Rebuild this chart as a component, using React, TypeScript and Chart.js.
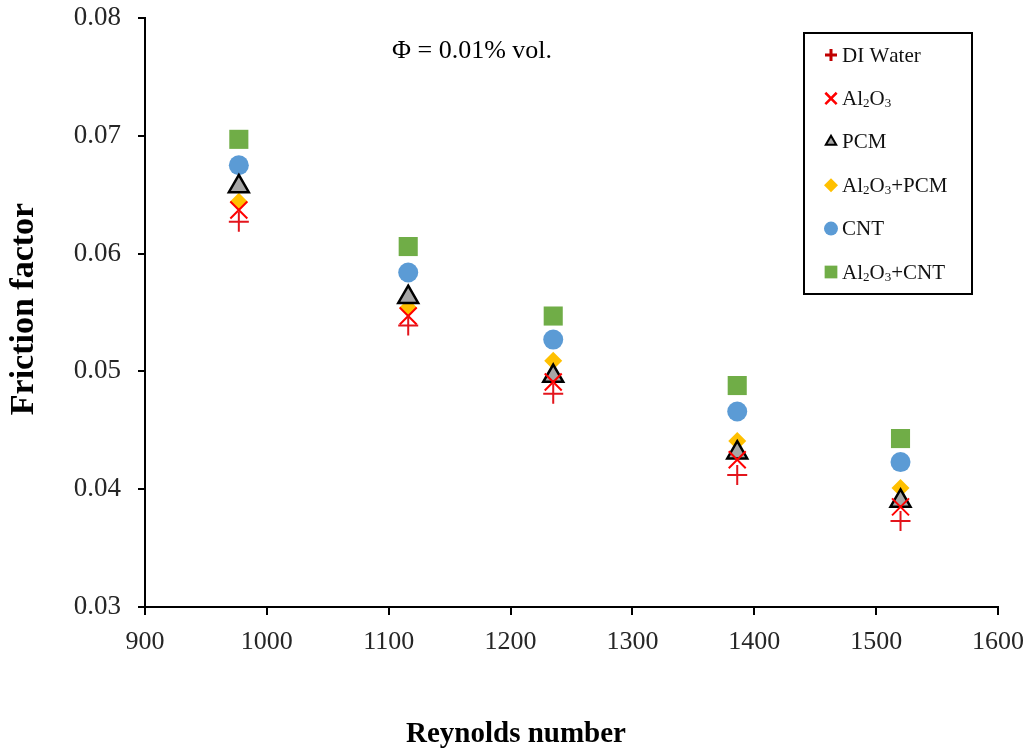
import React, { useEffect, useRef } from 'react';
import { Chart, registerables } from 'chart.js';
import { drawPoint } from 'chart.js/helpers';

Chart.register(...registerables);

// ---- Data ----
const reynolds = [977, 1116, 1235, 1386, 1520];
const diWater = [0.0627, 0.0539, 0.0481, 0.0412, 0.0373];
const al2o3 = [0.0637, 0.0547, 0.0491, 0.0425, 0.0385];
const pcm = [0.0657, 0.0563, 0.0496, 0.0431, 0.0390];
const al2o3Pcm = [0.0644, 0.0554, 0.0509, 0.0441, 0.0401];
const cnt = [0.0675, 0.0584, 0.0527, 0.0466, 0.0423];
const al2o3Cnt = [0.0697, 0.0606, 0.0547, 0.0488, 0.0443];

const seriesLabels = ['DI Water', 'Al₂O₃', 'PCM', 'Al₂O₃+PCM', 'CNT', 'Al₂O₃+CNT'];
const seriesValues = [diWater, al2o3, pcm, al2o3Pcm, cnt, al2o3Cnt];
const xTitleText = 'Reynolds number';
const yTitleText = 'Friction factor';
const annotationText = 'Φ = 0.01% vol.';

const FONT = "'Liberation Serif', 'Times New Roman', serif";

// ---- Styles ----
const styles = [
  { pointStyle: 'cross', radius: 10, bg: '#E3151C', border: '#E3151C', bw: 2, lRadius: 6, lColor: '#C00000', lbw: 3 },
  { pointStyle: 'crossRot', radius: 12, bg: '#FF0000', border: '#FF0000', bw: 2, lRadius: 8, lColor: '#FF0000', lbw: 2.5 },
  { pointStyle: 'triangle', radius: 11.5, bg: '#A6A6A6', border: '#000000', bw: 2.5, lRadius: 6, lColor: '#A6A6A6', lbw: 2 },
  { pointStyle: 'rectRot', radius: 9, bg: '#FFC000', border: '#FFC000', bw: 0, lRadius: 7, lColor: '#FFC000', lbw: 0 },
  { pointStyle: 'circle', radius: 10, bg: '#5B9BD5', border: '#5B9BD5', bw: 0, lRadius: 7, lColor: '#5B9BD5', lbw: 0 },
  { pointStyle: 'rect', radius: 13.5, bg: '#70AD47', border: '#70AD47', bw: 0, lRadius: 9, lColor: '#70AD47', lbw: 0 },
];

function drawRich(ctx: CanvasRenderingContext2D, text: string, x: number, y: number, size: number) {
  let cx = x;
  const subs = '₀₁₂₃₄₅₆₇₈₉';
  for (const ch of text) {
    const s = subs.indexOf(ch);
    if (s >= 0) {
      ctx.font = `${Math.round(size * 0.62)}px ${FONT}`;
      ctx.fillText(String(s), cx, y + size * 0.2);
      cx += ctx.measureText(String(s)).width;
    } else {
      ctx.font = `${size}px ${FONT}`;
      ctx.fillText(ch, cx, y);
      cx += ctx.measureText(ch).width;
    }
  }
}

const decorPlugin = {
  id: 'decor',
  afterDraw(chart: any) {
    const ctx: CanvasRenderingContext2D = chart.ctx;
    ctx.save();
    // axis titles
    ctx.fillStyle = '#000';
    ctx.textAlign = 'center';
    ctx.textBaseline = 'middle';
    ctx.font = `bold 29px ${FONT}`;
    ctx.fillText(xTitleText, 516, 735);
    ctx.save();
    ctx.translate(24, 309);
    ctx.rotate(-Math.PI / 2);
    ctx.font = `bold 34px ${FONT}`;
    ctx.fillText(yTitleText, 0, 0);
    ctx.restore();
    // annotation
    ctx.font = `26px ${FONT}`;
    ctx.fillText(annotationText, 472, 51);

    // legend box
    ctx.lineWidth = 2;
    ctx.strokeStyle = '#000';
    ctx.strokeRect(804, 33, 168, 261);
    chart.data.datasets.forEach((ds: any, i: number) => {
      const st = styles[i];
      const y = 55 + i * 43.4;
      ctx.save();
      ctx.fillStyle = st.lColor;
      ctx.strokeStyle = st.pointStyle === 'triangle' ? '#000' : st.lColor;
      ctx.lineWidth = st.lbw;
      drawPoint(ctx, { pointStyle: st.pointStyle, radius: st.lRadius, borderWidth: st.lbw, rotation: 0 } as any, 831, y);
      ctx.restore();
      ctx.fillStyle = '#111';
      ctx.textAlign = 'left';
      ctx.textBaseline = 'middle';
      drawRich(ctx, ds.label, 842, y + 1, 21);
    });
    ctx.restore();
  },
};

export default function App() {
  const ref = useRef<HTMLCanvasElement>(null);
  useEffect(() => {
    document.body.style.margin = '0';
    const canvas = ref.current!;
    const chart = new Chart(canvas, {
      type: 'scatter',
      data: {
        datasets: seriesLabels.map((label, i) => ({
          label,
          data: reynolds.map((x, j) => ({ x, y: seriesValues[i][j] })),
          pointStyle: styles[i].pointStyle as any,
          pointRadius: styles[i].radius,
          pointHoverRadius: styles[i].radius,
          backgroundColor: styles[i].bg,
          borderColor: styles[i].border,
          pointBorderWidth: styles[i].bw,
          borderWidth: styles[i].bw,
          showLine: false,
        })),
      },
      options: {
        responsive: false,
        animation: false,
        devicePixelRatio: 1,
        layout: { padding: { left: 0, right: 29, top: 18, bottom: 0 } },
        plugins: { legend: { display: false }, tooltip: { enabled: false } },
        scales: {
          x: {
            type: 'linear',
            min: 900,
            max: 1600,
            ticks: {
              stepSize: 100,
              font: { family: FONT, size: 26 },
              color: '#262626',
              padding: 12,
              callback: (v: any) => String(Math.round(Number(v))),
            },
            grid: { display: true, drawOnChartArea: false, drawTicks: true, tickLength: 8, color: '#000', lineWidth: 2 },
            border: { display: true, color: '#000', width: 2 },
            afterFit: (s: any) => { s.height = 144; s.paddingLeft = 0; s.paddingRight = 0; },
          },
          y: {
            type: 'linear',
            min: 0.03,
            max: 0.08,
            ticks: {
              stepSize: 0.01,
              font: { family: FONT, size: 27 },
              color: '#262626',
              padding: 17,
              callback: (v: any) => Number(v).toFixed(2),
            },
            grid: { display: true, drawOnChartArea: false, drawTicks: true, tickLength: 7, color: '#000', lineWidth: 2 },
            border: { display: true, color: '#000', width: 2 },
            afterFit: (s: any) => { s.width = 145; s.paddingTop = 0; s.paddingBottom = 0; },
          },
        },
      },
      plugins: [decorPlugin],
    });
    return () => chart.destroy();
  }, []);
  return <canvas ref={ref} width={1027} height={751} style={{ display: 'block' }} />;
}
